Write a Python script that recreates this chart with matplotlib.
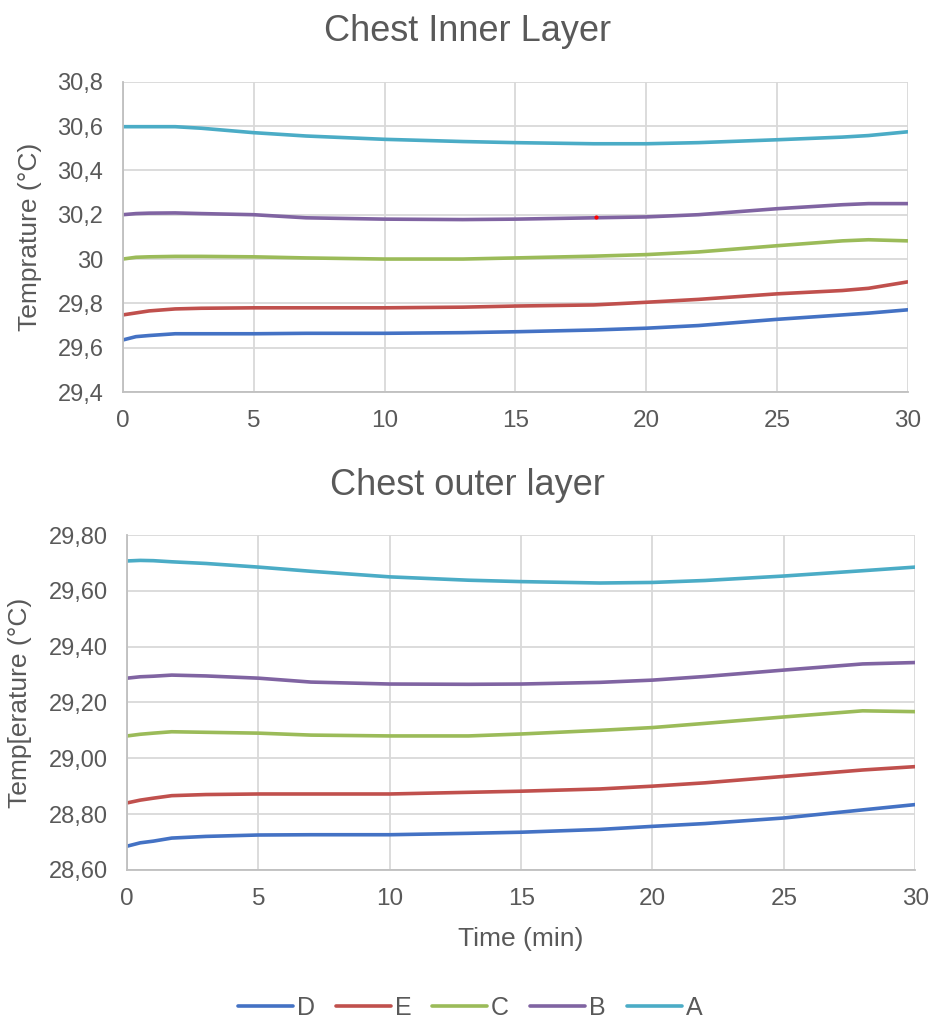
import matplotlib.pyplot as plt

plt.rcParams['font.family'] = ['Liberation Sans', 'DejaVu Sans']

series = ['D', 'E', 'C', 'B', 'A']
colors = {'D': '#4472C4', 'E': '#C0504D', 'C': '#9BBB59', 'B': '#8064A2', 'A': '#4BACC6'}

# chest inner layer (time in min, temperature)
inner_t = [0, 0.5, 1, 2, 3, 5, 7, 10, 13, 15, 18, 20, 22, 25, 27.5, 28.5, 30]
inner = {
    'A': [30.597, 30.597, 30.597, 30.597, 30.59, 30.57, 30.555, 30.54, 30.53, 30.525, 30.52, 30.52, 30.525, 30.538, 30.55, 30.557, 30.574],
    'B': [30.2, 30.205, 30.207, 30.208, 30.205, 30.2, 30.186, 30.18, 30.178, 30.18, 30.186, 30.19, 30.2, 30.227, 30.245, 30.25, 30.25],
    'C': [30.0, 30.008, 30.01, 30.012, 30.012, 30.01, 30.005, 30.0, 30.0, 30.005, 30.013, 30.02, 30.032, 30.06, 30.082, 30.087, 30.082],
    'E': [29.748, 29.757, 29.766, 29.775, 29.778, 29.78, 29.78, 29.78, 29.783, 29.788, 29.793, 29.805, 29.818, 29.843, 29.858, 29.868, 29.897],
    'D': [29.635, 29.65, 29.655, 29.663, 29.663, 29.663, 29.665, 29.665, 29.668, 29.672, 29.68, 29.688, 29.7, 29.728, 29.748, 29.756, 29.771],
}

# chest outer layer
outer_t = [0, 0.5, 1, 1.7, 3, 5, 7, 10, 13, 15, 18, 20, 22, 25, 28, 30]
outer = {
    'A': [29.707, 29.709, 29.708, 29.704, 29.698, 29.685, 29.67, 29.65, 29.638, 29.633, 29.628, 29.63, 29.637, 29.653, 29.672, 29.685],
    'B': [29.287, 29.292, 29.294, 29.298, 29.295, 29.287, 29.273, 29.266, 29.265, 29.266, 29.272, 29.28, 29.293, 29.316, 29.338, 29.343],
    'C': [29.08, 29.086, 29.09, 29.095, 29.093, 29.09, 29.083, 29.08, 29.08, 29.087, 29.1, 29.11, 29.125, 29.148, 29.17, 29.167],
    'E': [28.84, 28.85, 28.857, 28.866, 28.87, 28.872, 28.872, 28.872, 28.878, 28.882, 28.89, 28.9, 28.912, 28.935, 28.958, 28.97],
    'D': [28.685, 28.697, 28.703, 28.714, 28.72, 28.725, 28.726, 28.726, 28.731, 28.735, 28.745, 28.756, 28.766, 28.786, 28.815, 28.834],
}

inner_yticks = [29.4, 29.6, 29.8, 30.0, 30.2, 30.4, 30.6, 30.8]
inner_ylabels = ['29,4', '29,6', '29,8', '30', '30,2', '30,4', '30,6', '30,8']
outer_yticks = [28.6, 28.8, 29.0, 29.2, 29.4, 29.6, 29.8]
outer_ylabels = ['28,60', '28,80', '29,00', '29,20', '29,40', '29,60', '29,80']
xticks = [0, 5, 10, 15, 20, 25, 30]

# stray red dot visible in the original inner chart
dot_x, dot_y = [18.1], [30.19]

grey = '#595959'
grid = '#D9D9D9'

fig = plt.figure(figsize=(9.31, 10.21), dpi=100)
ax1 = fig.add_axes([0.132, 0.616, 0.843, 0.304])
ax2 = fig.add_axes([0.1365, 0.148, 0.8465, 0.328])


def style(ax, yt, yl, ylim):
    ax.set_xlim(0, 30)
    ax.set_ylim(*ylim)
    ax.set_xticks(xticks)
    ax.set_xticklabels([str(v) for v in xticks])
    ax.set_yticks(yt)
    ax.set_yticklabels(yl)
    ax.grid(True, color=grid, lw=1.3)
    ax.set_axisbelow(True)
    for s in ['top', 'right']:
        ax.spines[s].set_visible(False)
    for s in ['left', 'bottom']:
        ax.spines[s].set_color('#BFBFBF')
        ax.spines[s].set_linewidth(1.3)
    ax.tick_params(axis='x', length=0, labelsize=17.5, colors=grey, pad=13)
    ax.tick_params(axis='y', length=0, labelsize=17, colors=grey, pad=14)


for name in series:
    ax1.plot(inner_t, inner[name], color=colors[name], lw=2.6, solid_capstyle='round', label=name)
    ax2.plot(outer_t, outer[name], color=colors[name], lw=2.6, solid_capstyle='round', label=name)
ax1.scatter(dot_x, dot_y, s=4, color='red', zorder=5)

style(ax1, inner_yticks, inner_ylabels, (29.4, 30.8))
style(ax2, outer_yticks, outer_ylabels, (28.6, 29.8))

fig.text(0.502, 0.960, 'Chest Inner Layer', fontsize=26, color=grey, ha='center', va='baseline')
fig.text(0.502, 0.515, 'Chest outer layer', fontsize=26, color=grey, ha='center', va='baseline')

ax1.set_ylabel('Temprature (°C)', fontsize=19, color=grey)
ax1.yaxis.set_label_coords(-0.103, 0.5)
ax2.set_ylabel('Temp[erature (°C)', fontsize=19, color=grey)
ax2.yaxis.set_label_coords(-0.121, 0.5)
ax2.set_xlabel('Time (min)', fontsize=19, color=grey, labelpad=12)

handles, labels = ax2.get_legend_handles_labels()
fig.legend(handles, labels, loc='center', bbox_to_anchor=(0.505, 0.013), ncol=5,
           frameon=False, fontsize=18, labelcolor=grey, handlelength=2.2,
           handletextpad=0.15, columnspacing=0.85)

plt.savefig('out.png', dpi=100)
